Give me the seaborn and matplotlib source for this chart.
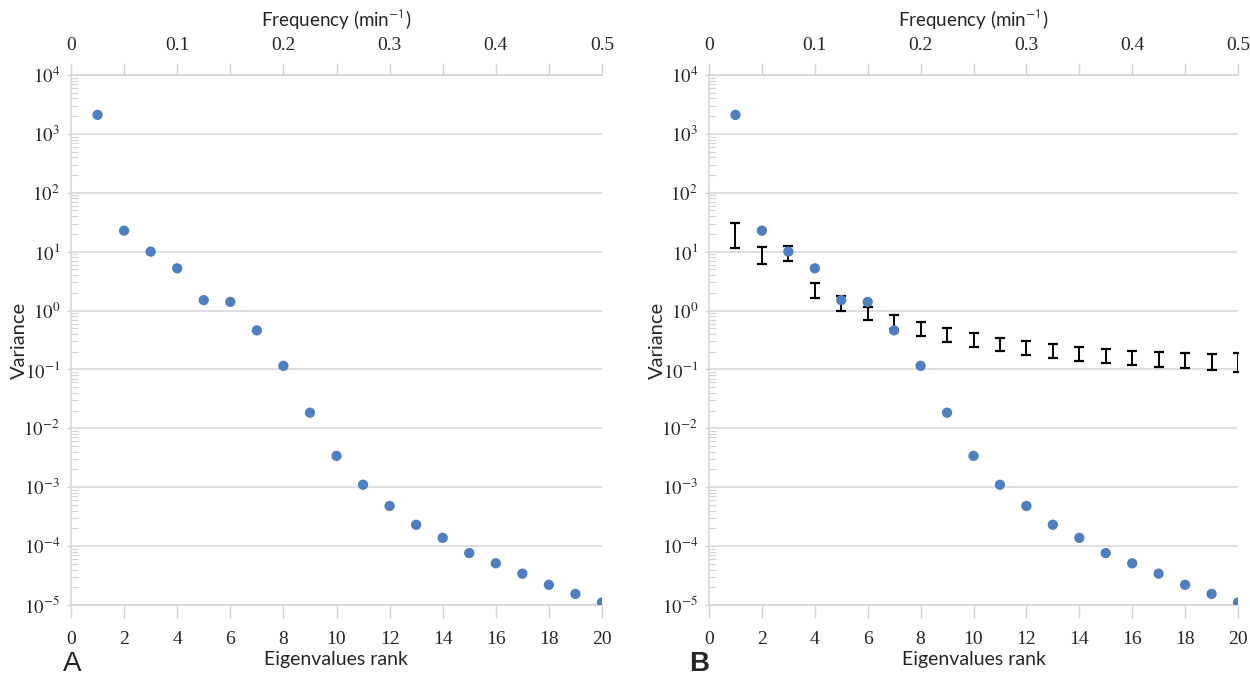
import numpy as np
import pandas as pd
import matplotlib
matplotlib.use("Agg")
import matplotlib.pyplot as plt
import seaborn as sns
from matplotlib.ticker import LogLocator, FixedLocator, NullFormatter, FuncFormatter

# ---------------- data ----------------
rank = [1, 2, 3, 4, 5, 6, 7, 8, 9, 10, 11, 12, 13, 14, 15, 16, 17, 18, 19, 20]
variance = [2100, 22.7, 10.0, 5.2, 1.5, 1.4, 0.46, 0.115, 0.0184, 0.0034,
            0.0011, 4.8e-4, 2.3e-4, 1.38e-4, 7.6e-5, 5.1e-5, 3.4e-5, 2.2e-5,
            1.54e-5, 1.1e-5]
# surrogate (noise) interval shown in panel B
noise_low = [11.3, 6.1, 6.8, 1.62, 1.0, 0.684, 0.494, 0.37, 0.297, 0.241,
             0.209, 0.177, 0.155, 0.139, 0.127, 0.119, 0.112, 0.105, 0.099, 0.092]
noise_high = [30.5, 12.2, 12.3, 2.96, 1.73, 1.16, 0.83, 0.63, 0.514, 0.418,
              0.347, 0.309, 0.267, 0.238, 0.22, 0.209, 0.195, 0.188, 0.183, 0.193]
x_ticks = [0, 2, 4, 6, 8, 10, 12, 14, 16, 18, 20]
freq_ticks = [0, 0.1, 0.2, 0.3, 0.4, 0.5]
freq_minor = [0.05, 0.15, 0.25, 0.35, 0.45]
panel_labels = ["A", "B"]

df = pd.DataFrame({"rank": rank, "variance": variance})

# ---------------- style ----------------
sns.set_theme(style="white")
SERIF = "Liberation Serif"
SANS = "Lato"
plt.rcParams["font.family"] = [SERIF, "DejaVu Serif"]
plt.rcParams["mathtext.fontset"] = "stix"
GRID = "#d4d4d4"
BLUE = "#4f7fc0"

fig = plt.figure(figsize=(12.5, 6.77), dpi=100)
positions = [[0.0568, 0.1064, 0.4248, 0.7829], [0.5672, 0.1064, 0.4232, 0.7829]]
panel_x = [0.0504, 0.551]
panel_size = [20, 20]

axes = []
for i, pos in enumerate(positions):
    ax = fig.add_axes(pos)
    sns.scatterplot(data=df, x="rank", y="variance", ax=ax, color=BLUE,
                    s=55, edgecolor="none", zorder=3)
    if i == 1:
        lo = np.array(noise_low)
        hi = np.array(noise_high)
        ax.errorbar(rank, lo, yerr=[np.zeros_like(lo), hi - lo], fmt="none",
                    ecolor="black", elinewidth=1.4, capsize=3.5, capthick=1.6,
                    zorder=2)
    ax.set_yscale("log")
    ax.set_xlim(0, 20)
    ax.set_ylim(1e-5, 1e4)
    ax.yaxis.set_major_locator(LogLocator(base=10, numticks=20))
    ax.yaxis.set_minor_locator(LogLocator(base=10, subs=np.arange(2, 10), numticks=20))
    ax.yaxis.set_minor_formatter(NullFormatter())
    ax.yaxis.set_major_formatter(FuncFormatter(lambda v, p: r"$10^{%d}$" % round(np.log10(v))))
    ax.grid(axis="y", which="major", color=GRID, linewidth=1.1)
    ax.grid(axis="x", visible=False)
    ax.set_xticks(x_ticks)
    ax.set_xticklabels([str(t) for t in x_ticks])
    for s in ["left", "bottom", "top"]:
        ax.spines[s].set_visible(True)
        ax.spines[s].set_color(GRID)
        ax.spines[s].set_linewidth(1.1)
    ax.spines["right"].set_visible(False)
    ax.tick_params(axis="x", which="major", direction="out", length=9, width=1,
                   color=GRID, pad=10, labelsize=14, bottom=True)
    ax.tick_params(axis="y", which="major", direction="out", length=3, width=1,
                   color=GRID, pad=5, labelsize=13.5, left=True)
    ax.tick_params(axis="y", which="minor", direction="in", length=5, width=0.8,
                   color=GRID, left=True)
    ax.set_xlabel("Eigenvalues rank", fontsize=14, family=SANS, labelpad=2)
    ax.set_ylabel("Variance", fontsize=14.5, family=SANS)
    ax.yaxis.set_label_coords(-0.081, 0.5)

    sec = ax.secondary_xaxis("top", functions=(lambda r: r / 40.0, lambda f: f * 40.0))
    sec.xaxis.set_major_locator(FixedLocator(freq_ticks))
    sec.xaxis.set_minor_locator(FixedLocator(freq_minor))
    sec.xaxis.set_major_formatter(FuncFormatter(lambda v, p: "0" if v == 0 else ("%g" % v)))
    sec.tick_params(axis="x", which="both", direction="out", length=9, width=1,
                    color=GRID, pad=6, labelsize=14)
    sec.spines["top"].set_visible(False)
    sec.set_xlabel("Frequency (min$^{\\mathsf{-1}}$)", fontsize=13.5, family=SANS, labelpad=8)
    axes.append((ax, sec))

    fig.text(panel_x[i], 0.0, panel_labels[i], fontsize=panel_size[i],
             family="Liberation Sans",
             fontweight=("bold" if i == 1 else "normal"), ha="left", va="bottom")

fig.canvas.draw()
for ax, sec in axes:
    for lab in ax.get_xticklabels() + sec.get_xticklabels():
        lab.set_fontfamily(SERIF)

fig.savefig("out.png", dpi=100)
